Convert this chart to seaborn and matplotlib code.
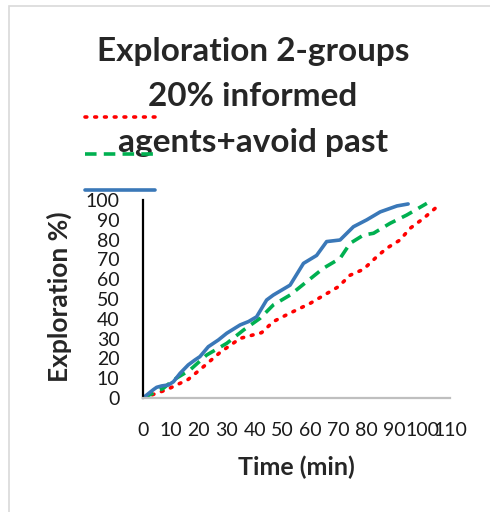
import matplotlib
matplotlib.use("Agg")
import matplotlib.pyplot as plt
import seaborn as sns
import pandas as pd
from matplotlib.patches import Rectangle

# ---- data ----
blue_x = [0, 3.7, 4.9, 6.7, 9.1, 10.9, 13.3, 16.2, 18.6, 20.4, 23.4, 27, 30, 34.8, 37.8, 40.7,
          44.3, 46.7, 52.7, 57.5, 62.2, 65.8, 70.6, 75.4, 80.2, 85, 91, 95]
blue_y = [0, 4.2, 5.4, 6.1, 6.6, 8.2, 12.5, 16.7, 19.2, 20.9, 25.9, 29.3, 32.7, 36.9, 38.6, 41,
          49.5, 52, 57, 68, 72, 79, 79.8, 86.5, 90, 94, 97, 98]

green_x = [0, 7.3, 10.9, 16.8, 22.8, 30, 36, 41.9, 46.7, 52.7, 58.7, 64.6, 70.6, 74.2, 79,
           82.6, 88.5, 94.5, 101.7]
green_y = [0, 4.9, 9.1, 14.1, 21.7, 27.6, 34.3, 40.2, 47, 52, 58.8, 65.5, 70.5, 78.1, 82.3,
           83.2, 88.2, 92.4, 98.3]

red_x = [0, 8.5, 16.2, 21, 27.6, 34.8, 42.5, 46.7, 52, 59.9, 67, 70, 74.2, 79, 83.8, 87.3,
         92.1, 95.7, 100.5, 106.5]
red_y = [0, 4.2, 9.4, 15, 23, 30.1, 33, 38.6, 42.4, 47.8, 53.7, 56.2, 62, 65, 71.4, 75.6,
         79.8, 85.7, 90.7, 98]

x_ticks = list(range(0, 111, 10))
y_ticks = list(range(0, 101, 10))

title_text = "Exploration 2-groups\n20% informed\nagents+avoid past"
x_label = "Time (min)"
y_label = "Exploration %)"

# ---- figure ----
sns.set_theme(style="white")
plt.rcParams["font.family"] = ["Lato", "DejaVu Sans"]

W, H = 490, 512
fig = plt.figure(figsize=(W / 100, H / 100), dpi=100)

# light chart border (top & left visible)
fig.patches.append(Rectangle((9 / W, -0.1), 1.2, 1 - 6 / H + 0.1, transform=fig.transFigure,
                             fill=False, edgecolor="#d9d9d9", linewidth=1.2, zorder=0))

left, right = 143 / W, 450 / W
bottom, top = 1 - 398 / H, 1 - 200 / H
ax = fig.add_axes([left, bottom, right - left, top - bottom])

df_red = pd.DataFrame({"x": red_x, "y": red_y})
df_green = pd.DataFrame({"x": green_x, "y": green_y})
df_blue = pd.DataFrame({"x": blue_x, "y": blue_y})

sns.lineplot(data=df_red, x="x", y="y", ax=ax, color="#ff0000", linewidth=2.6,
             linestyle=(0, (0.5, 2.2)), dash_capstyle="round", sort=False, estimator=None)
sns.lineplot(data=df_green, x="x", y="y", ax=ax, color="#00b050", linewidth=2.6,
             linestyle=(0, (3.2, 2.0)), sort=False, estimator=None)
sns.lineplot(data=df_blue, x="x", y="y", ax=ax, color="#3a78b8", linewidth=2.6,
             sort=False, estimator=None)

lines = ax.get_lines()
for ln in lines:
    ln.set_solid_capstyle("round")

ax.set_xlim(0, 110)
ax.set_ylim(0, 100)
ax.set_xticks(x_ticks)
ax.set_yticks(y_ticks)
ax.tick_params(axis="x", length=0, pad=17, labelsize=14, labelcolor="#1a1a1a")
ax.tick_params(axis="y", length=0, pad=17, labelsize=14, labelcolor="#1a1a1a")
ax.set_xlabel(x_label, fontsize=18, fontweight="bold", labelpad=12)
ax.set_ylabel(y_label, fontsize=19, fontweight="bold")
ax.yaxis.set_label_coords((72 - 143) / 307, (398 - 297) / 198)
for s in ["top", "right"]:
    ax.spines[s].set_visible(False)
ax.spines["left"].set_color("black")
ax.spines["left"].set_linewidth(1.6)
ax.spines["bottom"].set_color("#bfbfbf")
ax.spines["bottom"].set_linewidth(1.6)
ax.grid(False)
ax.set_facecolor("none")

# legend: line samples only
leg = fig.legend(handles=[lines[0], lines[1], lines[2]], labels=["", "", ""],
                 loc="upper left", bbox_to_anchor=(85 / W, 1 - 110 / H),
                 frameon=False, handlelength=3.6, handletextpad=0.0,
                 borderpad=0, borderaxespad=0, labelspacing=1.0, fontsize=14)

fig.text(253 / W, 1 - 97 / H, title_text, ha="center", va="center", fontsize=24,
         fontweight="bold", linespacing=1.70, zorder=5)

fig.savefig("out.png", dpi=100)
